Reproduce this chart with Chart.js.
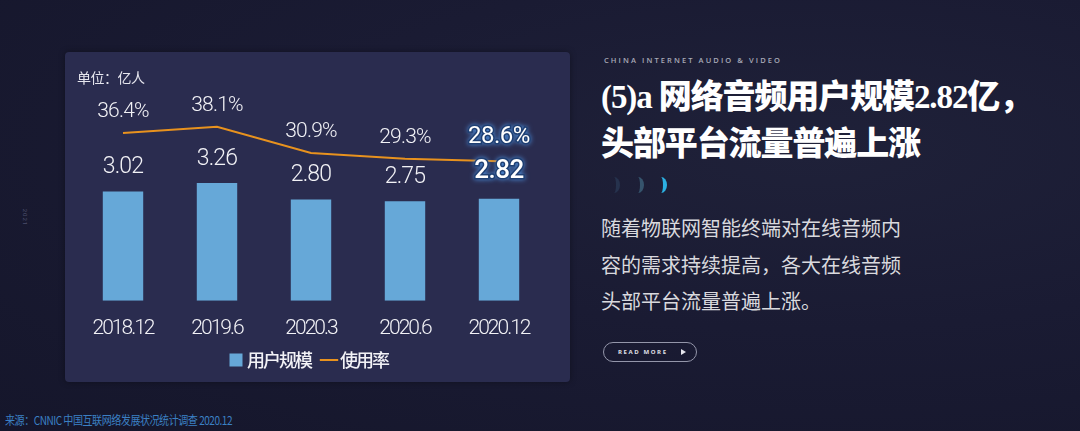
<!DOCTYPE html>
<html>
<head>
<meta charset="utf-8">
<script src="https://cdn.jsdelivr.net/npm/chart.js@4/dist/chart.umd.min.js"></script>
<style>
  html, body { margin: 0; padding: 0; }
  body {
    width: 1080px; height: 431px; overflow: hidden; position: relative;
    background: radial-gradient(ellipse at 75% 35%, #1f2139 0%, #1a1b33 45%, #15162b 100%);
    font-family: "Noto Sans CJK SC", "Noto Sans", sans-serif;
  }
  .panel {
    position: absolute; left: 65px; top: 52px; width: 505px; height: 330px;
    background: #2a2c4f; border-radius: 4px;
    box-shadow: 0 0 6px rgba(0,0,0,0.35);
  }
  .panel canvas { position: absolute; left: 0; top: 0; }
  .unit { position: absolute; left: 12px; top: 15px; color: #e6e6ee; font-size: 14px; letter-spacing: -0.5px; }
  .side { position: absolute; left: 17px; top: 214px; color: #4a4d6a; font-size: 6px; transform: rotate(90deg); font-family: Roboto, sans-serif; letter-spacing: 1px; }
  .eyebrow { position: absolute; left: 604px; top: 55px; color: #a8aab8; font-size: 7.5px; letter-spacing: 2.1px; font-family: "Open Sans", sans-serif; font-weight: 600; }
  .title { position: absolute; left: 601px; top: 72px; color: #ffffff; font-size: 33px; line-height: 44px; font-weight: 900; letter-spacing: -1.1px;
    font-family: "Liberation Serif", "DejaVu Serif", "Noto Sans CJK SC", serif; }
  .title .cjk { font-family: "Noto Sans CJK SC", sans-serif; }
  .dot { position: absolute; top: 177px; width: 12px; height: 16px; border-radius: 50%; border-right: 4px solid; box-sizing: border-box; }
  .body { position: absolute; left: 601px; top: 210px; color: #d9d9de; font-size: 20px; line-height: 36.5px; letter-spacing: 0px; }
  .btn { position: absolute; left: 603px; top: 342px; width: 92px; height: 18px; border: 1.5px solid #9496aa; border-radius: 11px; }
  .btn span { position: absolute; left: 14px; top: 4px; font-size: 6px; color: #e0e0e8; letter-spacing: 1.6px; font-family: "Open Sans", sans-serif; font-weight: 700; line-height: 10px; }
  .btn i { position: absolute; left: 77px; top: 5.5px; width: 0; height: 0; border-left: 5px solid #e6e6ee; border-top: 3.5px solid transparent; border-bottom: 3.5px solid transparent; }
  .src { position: absolute; left: 5px; top: 411px; color: #3b80c4; font-size: 12px; letter-spacing: -0.6px; transform: scaleX(0.84); transform-origin: 0 0; white-space: nowrap; }
</style>
</head>
<body>
<div class="side">2021</div>
<div class="panel">
  <canvas id="c" width="505" height="330"></canvas>
  <div class="unit">单位：亿人</div>
</div>
<div class="eyebrow">CHINA INTERNET AUDIO &amp; VIDEO</div>
<div class="title">(5)a <span class="cjk">网络音频用户规模</span>2.82<span class="cjk">亿，</span><br><span class="cjk">头部平台流量普遍上涨</span></div>
<div class="dot" style="left:608px;border-color:#26324d"></div>
<div class="dot" style="left:632px;border-color:#36546d"></div>
<div class="dot" style="left:655px;border-color:#2cb0e2"></div>
<div class="body">随着物联网智能终端对在线音频内<br>容的需求持续提高，各大在线音频<br>头部平台流量普遍上涨。</div>
<div class="btn"><span>READ MORE</span><i></i></div>
<div class="src">来源：CNNIC 中国互联网络发展状况统计调查 2020.12</div>

<script>
const categories = ['2018.12', '2019.6', '2020.3', '2020.6', '2020.12'];
const userScale = [3.02, 3.26, 2.80, 2.75, 2.82];
const usageRate = [36.4, 38.1, 30.9, 29.3, 28.6];
const userScaleLabels = ['3.02', '3.26', '2.80', '2.75', '2.82'];
const usageRateLabels = ['36.4%', '38.1%', '30.9%', '29.3%', '28.6%'];
const seriesNames = ['用户规模', '使用率'];

const BAR_COLOR = '#66a8d8';
const LINE_COLOR = '#e8921e';

const labelPlugin = {
  id: 'valueLabels',
  beforeUpdate(chart) { chart.ctx.letterSpacing = '-2px'; },
  beforeLayout(chart) { chart.ctx.letterSpacing = '-2px'; },
  beforeDraw(chart) { chart.ctx.letterSpacing = '-2px'; },
  afterDatasetsDraw(chart) {
    const ctx = chart.ctx;
    const barMeta = chart.getDatasetMeta(0);
    const lineMeta = chart.getDatasetMeta(1);
    const last = categories.length - 1;
    ctx.save();
    ctx.textAlign = 'center';
    ctx.textBaseline = 'middle';
    barMeta.data.forEach((el, i) => {
      const txt = userScaleLabels[i];
      if (i === last) {
        ctx.font = '500 26px Roboto, sans-serif';
        ctx.letterSpacing = '-0.5px';
        ctx.shadowColor = 'rgba(80,150,230,0.9)';
        ctx.shadowBlur = 5;
        ctx.lineWidth = 3;
        ctx.strokeStyle = '#1f3f72';
        ctx.strokeText(txt, el.x, el.y - 27);
        ctx.shadowBlur = 0;
        ctx.fillStyle = '#ffffff';
        ctx.fillText(txt, el.x, el.y - 27);
      } else {
        ctx.font = '300 23px Roboto, sans-serif';
        ctx.letterSpacing = '-0.8px';
        ctx.shadowBlur = 0;
        ctx.fillStyle = '#f2f2f6';
        ctx.fillText(txt, el.x, el.y - 24);
      }
    });
    lineMeta.data.forEach((el, i) => {
      const txt = usageRateLabels[i];
      if (i === last) {
        ctx.font = '400 24px Roboto, sans-serif';
        ctx.letterSpacing = '-0.5px';
        ctx.shadowColor = 'rgba(80,150,230,0.9)';
        ctx.shadowBlur = 5;
        ctx.lineWidth = 3;
        ctx.strokeStyle = '#1f3f72';
        ctx.strokeText(txt, el.x, el.y - 24);
        ctx.shadowBlur = 0;
        ctx.fillStyle = '#ffffff';
        ctx.fillText(txt, el.x, el.y - 24);
      } else {
        ctx.font = '300 21px Roboto, sans-serif';
        ctx.letterSpacing = '-0.8px';
        ctx.shadowBlur = 0;
        ctx.fillStyle = '#f2f2f6';
        ctx.fillText(txt, el.x, el.y - 21);
      }
    });
    ctx.restore();
  }
};

new Chart(document.getElementById('c'), {
  type: 'bar',
  data: {
    labels: categories,
    datasets: [
      {
        type: 'bar',
        label: seriesNames[0],
        data: userScale,
        yAxisID: 'y',
        backgroundColor: BAR_COLOR,
        borderWidth: 0,
        barPercentage: 0.43,
        categoryPercentage: 1
      },
      {
        type: 'line',
        label: seriesNames[1],
        data: usageRate,
        yAxisID: 'y2',
        borderColor: LINE_COLOR,
        backgroundColor: LINE_COLOR,
        borderWidth: 2,
        pointRadius: 0,
        tension: 0,
        fill: false
      }
    ]
  },
  options: {
    responsive: false,
    animation: false,
    devicePixelRatio: 1,
    layout: { padding: { left: 11, right: 24, top: 68, bottom: 3 } },
    scales: {
      x: {
        offset: true,
        grid: { display: false, drawTicks: true, tickLength: 22 },
        border: { display: false },
        ticks: { color: '#f2f2f6', padding: -6.5, font: { family: 'Roboto', size: 21, weight: '300' }, maxRotation: 0 }
      },
      y: { display: false, min: 0, max: 5 },
      y2: { display: false, min: -10, max: 40 }
    },
    plugins: {
      tooltip: { enabled: false },
      legend: {
        position: 'bottom',
        labels: {
          usePointStyle: true,
          boxHeight: 13,
          boxWidth: 4,
          padding: 16,
          color: '#f2f2f6',
          font: { family: '"Noto Sans CJK SC"', size: 18, weight: '500' },
          generateLabels(chart) {
            const items = Chart.defaults.plugins.legend.labels.generateLabels(chart);
            items[0].pointStyle = 'rect';
            items[0].fillStyle = BAR_COLOR;
            items[0].lineWidth = 0;
            items[1].pointStyle = 'line';
            items[1].strokeStyle = LINE_COLOR;
            items[1].lineWidth = 2;
            return items;
          }
        }
      }
    }
  },
  plugins: [labelPlugin]
});
</script>
</body>
</html>
